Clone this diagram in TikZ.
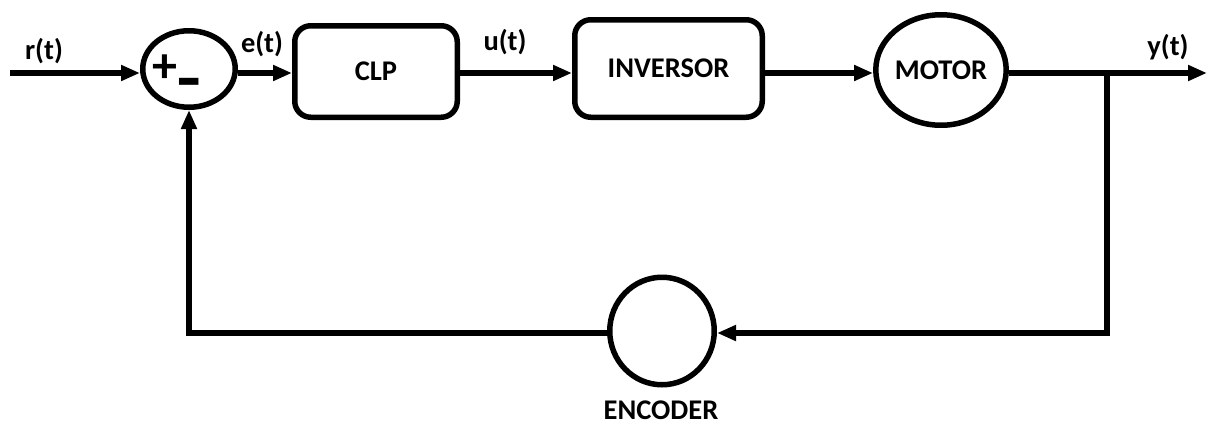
\documentclass[tikz,border=0pt]{standalone}
\usepackage{fontspec}
\setmainfont{Carlito}
\usetikzlibrary{arrows.meta,shapes.geometric}
\begin{document}
\begin{tikzpicture}[x=1pt,y=-1pt,line width=5.5pt,
  txt/.style={font=\fontsize{28.5}{32}\selectfont\bfseries},
  lbl/.style={txt,inner sep=0pt},
  sgn/.style={font=\fontsize{50}{54}\selectfont\bfseries,inner sep=0pt},
  blk/.style={draw,rounded corners=16pt,inner sep=0pt,txt},
  circ/.style={draw,ellipse,inner sep=0pt,txt},
  arr/.style={-{Triangle[length=19pt,width=15pt]}}]
\useasboundingbox (0,0) rectangle (1208,426);
% blocks
\node[circ,minimum width=92.5pt,minimum height=76.5pt] (sum) at (189,69) {};
\node[sgn] (plus) at (165,69) {+};
\node[sgn,xscale=1.1,yscale=1.6] (minus) at (189,91) {–};
\node[blk,minimum width=162.5pt,minimum height=91.5pt] (clp) at (376,71.5) {CLP};
\node[blk,minimum width=187.5pt,minimum height=97.5pt] (inv) at (668.5,68.5) {INVERSOR};
\node[circ,minimum width=121.5pt,minimum height=110.5pt] (mot) at (941,70) {MOTOR};
\node[circ,minimum width=104.5pt,minimum height=107.5pt] (enc) at (662,331) {};
\node[lbl] (enclbl) at (661,410) {ENCODER};
% labels
\node[lbl] (rt) at (44,51) {r(t)};
\node[lbl] (et) at (262,44) {e(t)};
\node[lbl] (ut) at (505,42) {u(t)};
\node[lbl] (yt) at (1168,47) {y(t)};
% coordinates
\coordinate (in) at (10,73);
\coordinate (out) at (1207,73);
\coordinate (br) at (1107,73);
\coordinate (brd) at (1107,333);
% connectors
\draw[arr] (in) -- (sum.west |- in);
\draw[arr] (sum.east |- in) -- (clp.west |- in);
\draw[arr] (clp.east |- in) -- (inv.west |- in);
\draw[arr] (inv.east |- in) -- (mot.west |- in);
\draw[arr] (mot.east |- in) -- (out);
\draw[arr] (br) -- (brd) -- (enc.east |- brd);
\draw[arr] (enc.west |- brd) -- (sum.south |- brd) -- (sum.south);
\end{tikzpicture}
\end{document}
